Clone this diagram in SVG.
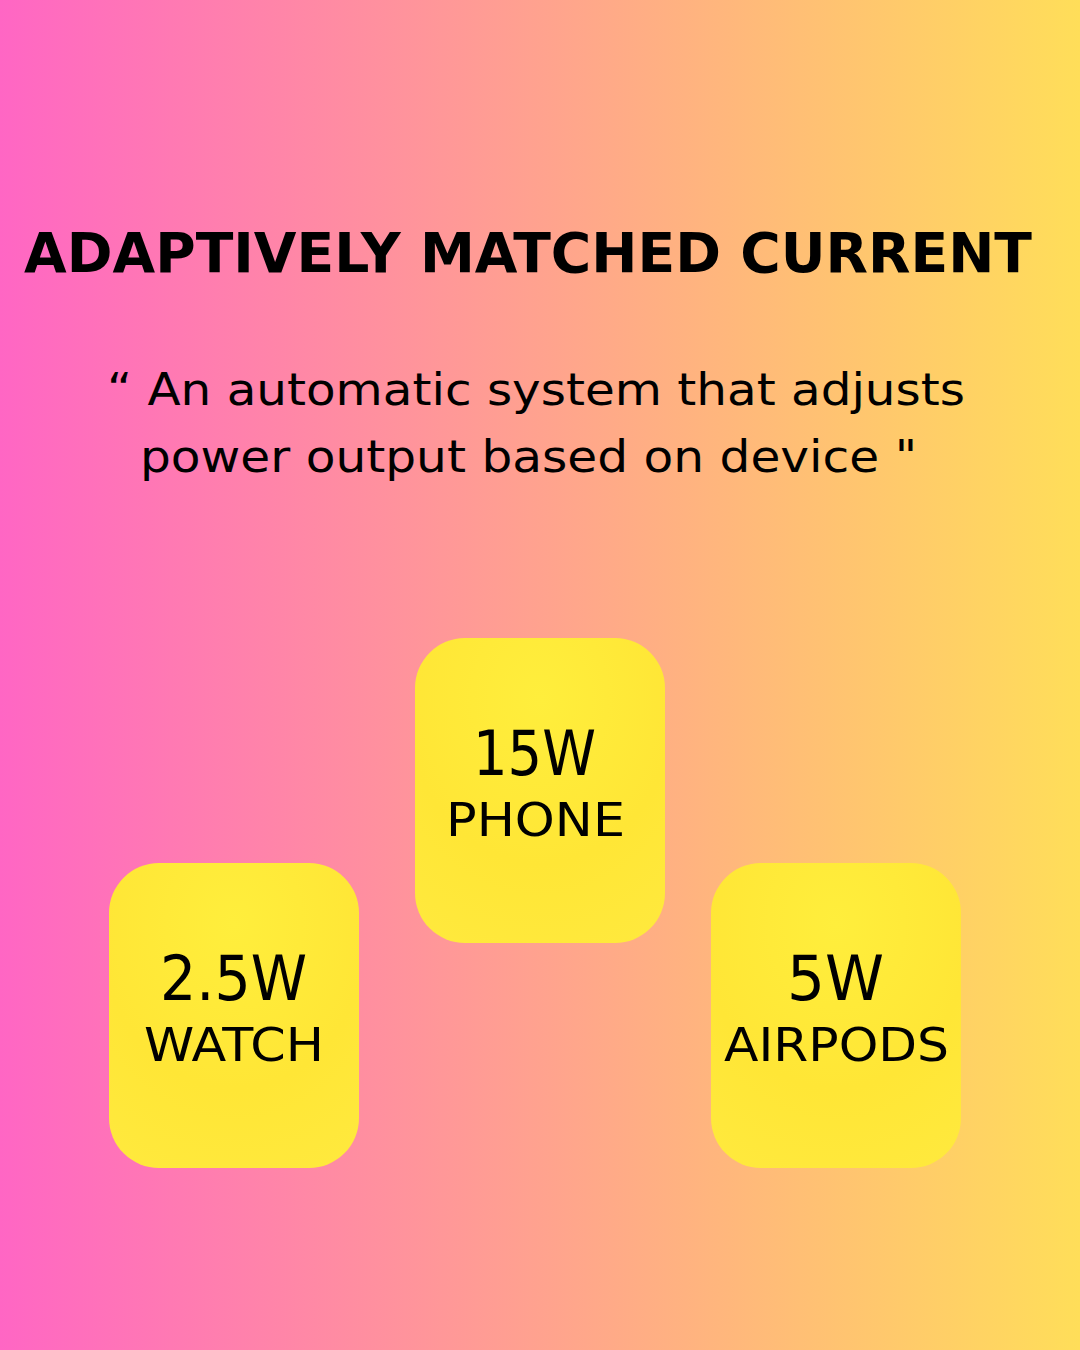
<svg xmlns="http://www.w3.org/2000/svg" width="1080" height="1350" viewBox="0 0 1080 1350">
  <defs>
    <linearGradient id="bg" x1="0" y1="0" x2="1" y2="0">
      <stop offset="0" stop-color="#FF66C4"/>
      <stop offset="1" stop-color="#FFDE59"/>
    </linearGradient>
    <radialGradient id="box" cx="0.5" cy="0.2" r="0.9">
      <stop offset="0" stop-color="#FFEE3C"/>
      <stop offset="0.6" stop-color="#FFE636"/>
      <stop offset="1" stop-color="#FFE93D"/>
    </radialGradient>
  </defs>
  <style>
    text { fill: #000; font-family: "DejaVu Sans", "Liberation Sans", sans-serif; }
    .title { font-size: 55px; font-weight: bold; }
    .sub { font-size: 44px; }
    .big { font-size: 62px; }
    .small { font-size: 46px; }
    .card { fill: url(#box); }
  </style>
  <rect x="0" y="0" width="1080" height="1350" fill="url(#bg)"/>
  <g id="title">
    <text class="title" x="24" y="272" textLength="1008" lengthAdjust="spacingAndGlyphs">ADAPTIVELY MATCHED CURRENT</text>
  </g>
  <g id="subtitle">
    <text class="sub" x="107" y="405" textLength="858" lengthAdjust="spacingAndGlyphs">“ An automatic system that adjusts</text>
    <text class="sub" x="140" y="472" textLength="777" lengthAdjust="spacingAndGlyphs">power output based on device "</text>
  </g>
  <g id="connectors"></g>
  <g id="phone">
    <rect class="card" x="415" y="638" width="250" height="305" rx="50" ry="50"/>
    <text class="big" x="473" y="775" textLength="123" lengthAdjust="spacingAndGlyphs">15W</text>
    <text class="small" x="446" y="836" textLength="179" lengthAdjust="spacingAndGlyphs">PHONE</text>
  </g>
  <g id="watch">
    <rect class="card" x="109" y="863" width="250" height="305" rx="50" ry="50"/>
    <text class="big" x="160" y="1000" textLength="147" lengthAdjust="spacingAndGlyphs">2.5W</text>
    <text class="small" x="144" y="1061" textLength="180" lengthAdjust="spacingAndGlyphs">WATCH</text>
  </g>
  <g id="airpods">
    <rect class="card" x="711" y="863" width="250" height="305" rx="50" ry="50"/>
    <text class="big" x="787" y="1000" textLength="97" lengthAdjust="spacingAndGlyphs">5W</text>
    <text class="small" x="724" y="1061" textLength="225" lengthAdjust="spacingAndGlyphs">AIRPODS</text>
  </g>
</svg>
